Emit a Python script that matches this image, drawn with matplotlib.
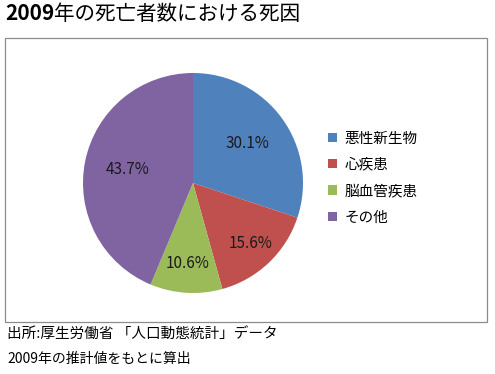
import matplotlib
matplotlib.use('Agg')
import matplotlib.pyplot as plt
from matplotlib.patches import Rectangle
import numpy as np

plt.rcParams['font.family'] = ['Noto Sans CJK JP', 'DejaVu Sans']

# data
causes = ['悪性新生物', '心疾患', '脳血管疾患', 'その他']
shares = [30.1, 15.6, 10.6, 43.7]
colors = ['#4F81BD', '#C0504D', '#9BBB59', '#8064A2']
label_dist = [0.61, 0.76, 0.73, 0.61]

fig = plt.figure(figsize=(4.95, 3.74), dpi=100)
fig.patch.set_facecolor('white')

# chart frame
fig.add_artist(Rectangle((5 / 495, 1 - 322 / 374), 482 / 495, 284 / 374,
                         transform=fig.transFigure, fill=False,
                         edgecolor='#8c8c8c', linewidth=0.9))

ax = fig.add_axes([83 / 495, 1 - 293 / 374, 220 / 495, 220 / 374])
wedges, _ = ax.pie(shares, colors=colors, startangle=90, counterclock=False,
                   wedgeprops=dict(linewidth=0))
ax.set_xlim(-1, 1)
ax.set_ylim(-1, 1)
ax.set_aspect('equal')

# percentage labels
for w, v, d in zip(wedges, shares, label_dist):
    ang = np.deg2rad((w.theta1 + w.theta2) / 2)
    ax.text(d * np.cos(ang), d * np.sin(ang), f'{v:.1f}%',
            ha='center', va='center', fontsize=11, color='#1a1a1a')

fig.legend(wedges, causes, loc='center left',
           bbox_to_anchor=(315 / 495, 1 - 178 / 374),
           frameon=False, fontsize=10.5, handlelength=0.6,
           handleheight=0.6, handletextpad=0.5, labelspacing=0.85)

# title and notes
t1 = fig.text(5 / 495, 1 - 14 / 374, '2009', fontsize=15, fontweight='bold',
              va='center', ha='left')
ax.annotate('年の死亡者数における死因', xy=(1, 0.5), xycoords=t1,
            fontsize=14.8, va='center', ha='left', annotation_clip=False)
fig.text(7 / 495, 1 - 335 / 374, '出所:厚生労働省 「人口動態統計」データ',
         fontsize=10.5, va='center', ha='left')
fig.text(7 / 495, 1 - 359 / 374, '2009年の推計値をもとに算出',
         fontsize=10, va='center', ha='left')

plt.savefig('out.png', dpi=100)
